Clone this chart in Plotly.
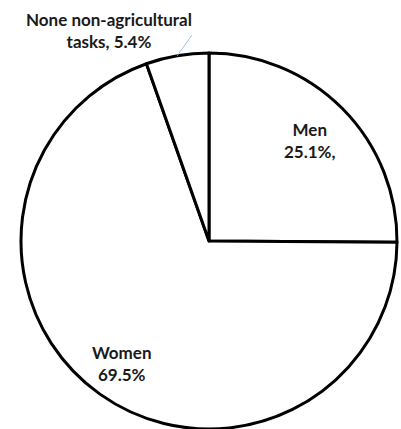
import math
import plotly.graph_objects as go

labels = ["Men", "Women", "None non-agricultural tasks"]
values = [25.1, 69.5, 5.4]
label_text = ["Men<br>25.1%,", "Women<br>69.5%", "None non-agricultural<br>tasks, 5.4%"]

W, H = 401, 429
cx, cy, R = 209, 241, 188  # pixel geometry of the pie

fig = go.Figure(go.Pie(
    labels=labels, values=values, sort=False, direction="clockwise", rotation=0,
    textinfo="none", hoverinfo="skip", showlegend=False,
    marker=dict(colors=["white"] * 3, line=dict(color="black", width=3)),
    domain=dict(x=[(cx - R) / W, (cx + R) / W], y=[1 - (cy + R) / H, 1 - (cy - R) / H]),
))

def px(x, y):
    return x / W, 1 - y / H

# label placement from slice mid-angles
total = sum(values)
cum = 0
mids = []
for v in values:
    mids.append((cum + v / 2) / total * 2 * math.pi)
    cum += v

font = dict(family="Lato", size=17, color="#1a1a1a")
rfac = [0.76, 0.80]
for i in range(2):
    a = mids[i]
    x = cx + rfac[i] * R * math.sin(a)
    y = cy - rfac[i] * R * math.cos(a)
    X, Y = px(x, y)
    fig.add_annotation(x=X, y=Y, xref="paper", yref="paper", text="<b>" + label_text[i] + "</b>",
                       showarrow=False, font=font, align="center",
                       xanchor="center", yanchor="middle")

# outside label for small slice
X, Y = px(109, 31)
fig.add_annotation(x=X, y=Y, xref="paper", yref="paper", text="<b>" + label_text[2] + "</b>",
                   showarrow=False, font=font, align="center",
                   xanchor="center", yanchor="middle")
a = mids[2]
x0 = cx + R * math.sin(a)
y0 = cy - R * math.cos(a)
X0, Y0 = px(x0, y0)
X1, Y1 = px(192, 35)
fig.add_shape(type="line", xref="paper", yref="paper", x0=X0, y0=Y0, x1=X1, y1=Y1,
              line=dict(color="#9DC3E6", width=1))

fig.update_layout(width=W, height=H, margin=dict(l=0, r=0, t=0, b=0),
                  paper_bgcolor="white", plot_bgcolor="white")
fig.write_html("out.html")
